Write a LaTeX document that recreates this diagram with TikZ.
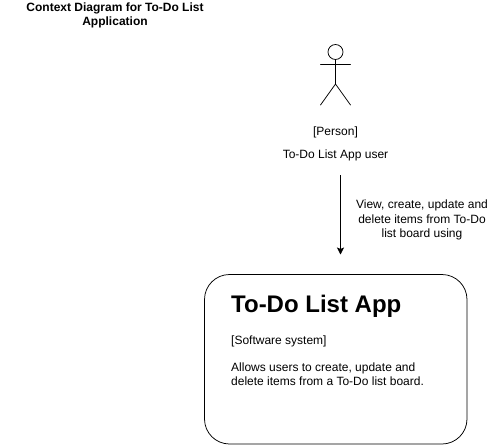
\documentclass[tikz,border=0pt]{standalone}
\usepackage{fontspec}
\setmainfont{Liberation Sans}
\usetikzlibrary{arrows.meta}
\tikzset{
  txt/.style={inner sep=0pt, align=center, font=\fontsize{12}{14.4}\selectfont, text=black},
  lbl/.style={inner sep=0pt, align=left, anchor=west, font=\fontsize{12}{14.4}\selectfont},
  fig/.style={line width=0.75pt, line cap=round},
}
\begin{document}
\begin{tikzpicture}[x=1pt,y=-1pt]
\useasboundingbox (0,0) rectangle (491,445);
\node[txt, font=\fontsize{12}{14.4}\selectfont\bfseries] (title) at (115,15.5) {Context Diagram for To-Do List\\Application};
\draw[fig] (335.5,52) circle[radius=7.5pt];
\coordinate (neck) at (335.5,59.5);
\coordinate (hip) at (335.5,84);
\coordinate (armL) at (320.5,64.5);
\coordinate (armR) at (350.5,64.5);
\coordinate (legL) at (320.5,105);
\coordinate (legR) at (350.5,105);
\draw[fig] (neck) -- (hip) (armL) -- (armR) (legL) -- (hip) -- (legR);
\node[txt] (person) at (335.5,132.5) {[Person]};
\node[txt] (user) at (335.5,155.5) {To-Do List App user};
\coordinate (a) at (340.5,175);
\coordinate (b) at (340.5,254.5);
\draw[line width=0.75pt,-{Stealth[length=7pt,width=7pt,inset=1.5pt]}] (a) -- (b);
\node[txt] (edge) at (422,220) {View, create, update and\\delete items from To-Do\\list board using};
\draw[line width=0.75pt, rounded corners=25pt] (204.5,274.5) rectangle (467,444);
\node[inner sep=0pt,anchor=west,font=\fontsize{24}{28}\selectfont\bfseries] (app) at (231,306) {To-Do List App};
\node[lbl] (sys) at (231,341.5) {[Software system]};
\node[lbl] (desc) at (231,374.5) {Allows users to create, update and\\delete items from a To-Do list board.};
\end{tikzpicture}
\end{document}
